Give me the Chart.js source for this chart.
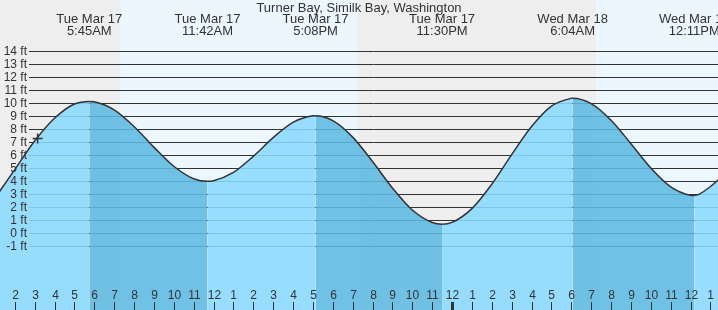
<!DOCTYPE html>
<html>
<head>
<meta charset="utf-8">
<script src="https://cdn.jsdelivr.net/npm/chart.js@4.4.1/dist/chart.umd.min.js"></script>
<style>
  body { margin: 0; background: #fff; }
  #wrap { width: 718px; height: 310px; position: relative; }
</style>
</head>
<body>
<div id="wrap"><canvas id="tideChart"></canvas></div>
<script>
const chartTitle = "Turner Bay, Similk Bay, Washington";

// hours counted from Tue Mar 17 00:00, tide height in ft
const times  = [1, 2, 3, 4, 5, 5.75, 6, 7, 8, 9, 10, 11, 11.7, 12, 13, 14, 15, 16, 17, 17.133,
                18, 19, 20, 21, 22, 23, 23.5, 24, 25, 26, 27, 28, 29, 30, 30.067,
                31, 32, 33, 34, 35, 36, 36.183, 37, 38];
const levels = [2.7, 4.9, 7.1, 8.85, 9.95, 10.15, 10.12, 9.5, 8.22, 6.63, 5.16, 4.2, 4.0, 4.04, 4.68, 5.92, 7.36, 8.53, 9.04, 9.05,
                8.67, 7.4, 5.52, 3.49, 1.79, 0.83, 0.7, 0.84, 1.9, 3.77, 6.05, 8.21, 9.78, 10.39, 10.4,
                9.98, 8.7, 6.89, 5.02, 3.57, 2.92, 2.9, 3.6, 5.0];

// high / low tide labels
const extremeTimes = [5.75, 11.7, 17.133, 23.5, 30.067, 36.183];
const extremeDays  = ["Tue Mar 17", "Tue Mar 17", "Tue Mar 17", "Tue Mar 17", "Wed Mar 18", "Wed Mar 18"];
const extremeClock = ["5:45AM", "11:42AM", "5:08PM", "11:30PM", "6:04AM", "12:11PM"];

// sunrise, sunset, sunrise
const sunTimes = [7.3, 19.27, 31.25];

const yTicks = [-1, 0, 1, 2, 3, 4, 5, 6, 7, 8, 9, 10, 11, 12, 13, 14];
const hourTicks = [2, 3, 4, 5, 6, 7, 8, 9, 10, 11, 12, 13, 14, 15, 16, 17, 18, 19, 20, 21, 22, 23, 24,
                   25, 26, 27, 28, 29, 30, 31, 32, 33, 34, 35, 36, 37];

// current time marker
const nowTime = [3.15];
const nowLevel = [7.3];

const lightFill = "rgba(138,218,255,0.88)";
const darkFill = "rgba(95,186,227,0.88)";
const textColor = "#333";
const font = "'Liberation Sans', Arial, sans-serif";

const tideDecor = {
    id: "tideDecor",
    beforeDraw(chart) {
        const { ctx, width, height } = chart;
        const x = chart.scales.x;
        ctx.save();
        ctx.fillStyle = "#eeeeee";
        ctx.fillRect(0, 0, width, height);
        ctx.fillStyle = "#ecf6ff";
        for (let i = 0; i < sunTimes.length; i += 2) {
            const x0 = Math.round(x.getPixelForValue(sunTimes[i]));
            const x1 = i + 1 < sunTimes.length ? Math.round(x.getPixelForValue(sunTimes[i + 1])) : width;
            ctx.fillRect(x0, 0, x1 - x0, height);
        }
        ctx.restore();
    },
    beforeDatasetsDraw(chart) {
        const { ctx, width } = chart;
        const y = chart.scales.y;
        ctx.save();
        ctx.strokeStyle = "#333";
        ctx.lineWidth = 1;
        yTicks.forEach(v => {
            const py = Math.round(y.getPixelForValue(v)) + 0.5;
            ctx.beginPath();
            ctx.moveTo(29, py);
            ctx.lineTo(width, py);
            ctx.stroke();
        });
        ctx.restore();
    },
    afterDatasetsDraw(chart) {
        const { ctx, width } = chart;
        const { x, y } = chart.scales;
        ctx.save();
        ctx.fillStyle = textColor;
        ctx.strokeStyle = textColor;

        // y labels
        ctx.font = "12px " + font;
        ctx.textAlign = "right";
        ctx.textBaseline = "middle";
        yTicks.forEach(v => {
            ctx.fillText(v + " ft", 27, Math.round(y.getPixelForValue(v)) + 0.5);
        });

        // hour ticks
        ctx.textAlign = "center";
        hourTicks.forEach(h => {
            const px = Math.round(x.getPixelForValue(h)) + 0.5;
            ctx.lineWidth = h % 24 === 0 ? 3 : 1;
            ctx.beginPath();
            ctx.moveTo(px, 302);
            ctx.lineTo(px, 310);
            ctx.stroke();
            ctx.fillText(String(h % 12 || 12), px, 296);
        });

        // title and extreme labels
        ctx.font = "13px " + font;
        ctx.fillText(chartTitle, width / 2, 8);
        extremeTimes.forEach((t, i) => {
            const px = x.getPixelForValue(t);
            ctx.fillText(extremeDays[i], px, 19);
            ctx.fillText(extremeClock[i], px, 31);
        });
        ctx.restore();
    }
};

new Chart(document.getElementById("tideChart"), {
    type: "line",
    data: {
        datasets: [{
            data: nowTime.map((t, i) => ({ x: t, y: nowLevel[i] })),
            showLine: false,
            pointStyle: "cross",
            pointRadius: 5,
            borderColor: "#333",
            borderWidth: 1.5,
            order: 0
        }, {
            data: times.map((t, i) => ({ x: t, y: levels[i] })),
            borderColor: "#333",
            borderWidth: 1.5,
            backgroundColor: lightFill,
            fill: "start",
            pointRadius: 0,
            cubicInterpolationMode: "monotone",
            segment: {
                backgroundColor: c => c.p1.parsed.y < c.p0.parsed.y ? darkFill : lightFill
            },
            order: 1
        }]
    },
    options: {
        responsive: true,
        maintainAspectRatio: false,
        animation: false,
        devicePixelRatio: 1,
        layout: { padding: 0, autoPadding: false },
        plugins: { legend: { display: false }, tooltip: { enabled: false } },
        scales: {
            x: { type: "linear", display: false, min: 1.258, max: 37.38 },
            y: { display: false, min: -5.9, max: 17.95 }
        }
    },
    plugins: [tideDecor]
});
</script>
</body>
</html>
